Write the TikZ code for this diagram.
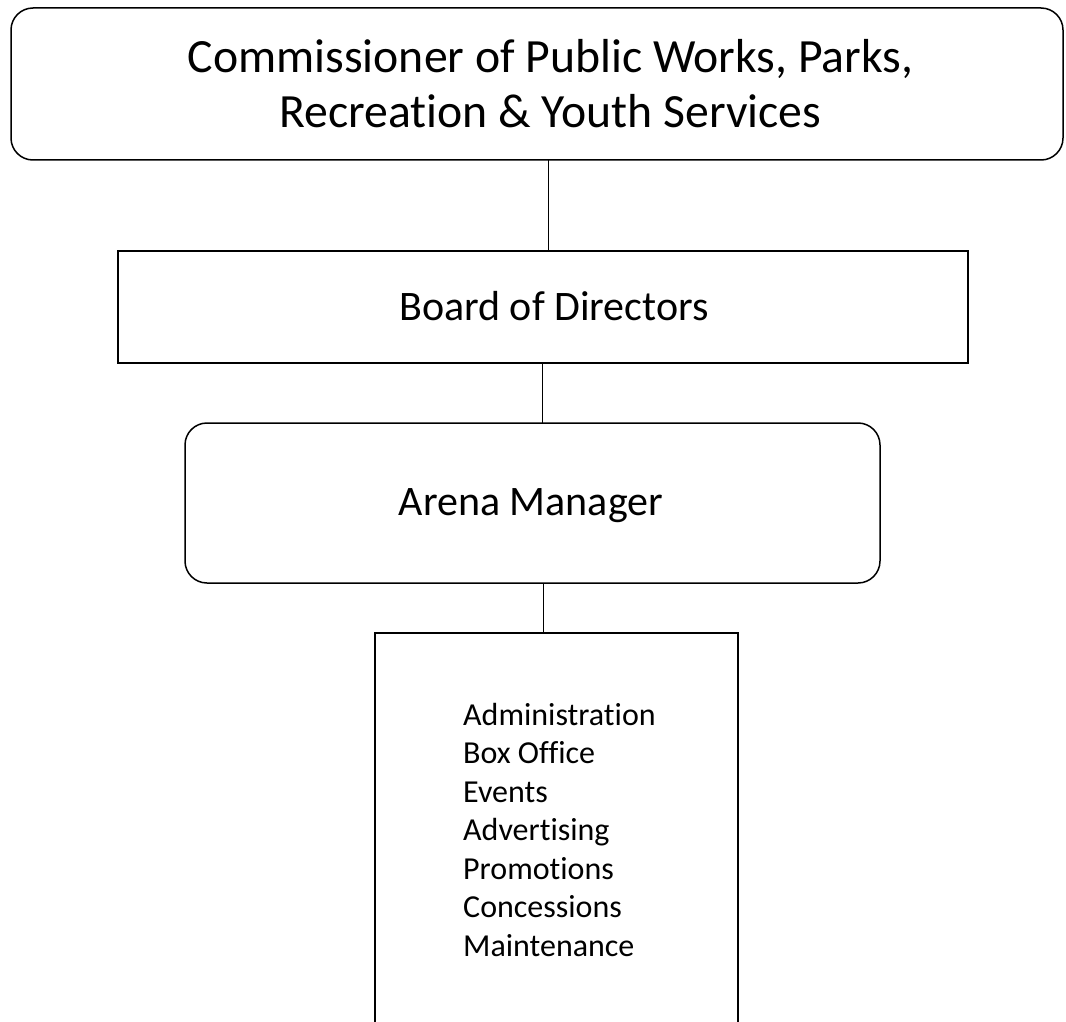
\documentclass[tikz,border=0pt]{standalone}
\usepackage{fontspec}
\setmainfont{Carlito}[RawFeature={-liga;-clig;-calt;-dlig}]
\begin{document}
\begin{tikzpicture}[x=1pt,y=-1pt,
  box/.style={draw=black,line width=1.5pt,inner sep=0pt,outer sep=0pt},
  roundbox/.style={box,rounded corners=22pt},
  huge/.style={font=\fontsize{47.7}{55}\selectfont,inner sep=0pt},
  big/.style={font=\fontsize{42}{51}\selectfont,inner sep=0pt},
  small/.style={font=\fontsize{32}{38.5}\selectfont,inner sep=0pt,align=left},
  conn/.style={draw=black,line width=0.9pt}]
\clip (0,0) rectangle (1066,1022);
\fill[white] (0,0) rectangle (1066,1022);
% boxes
\node[roundbox,minimum width=1052pt,minimum height=152pt] (top) at (537,84) {};
\node[box,minimum width=850pt,minimum height=112pt] (board) at (543,307) {};
\node[roundbox,minimum width=695pt,minimum height=160pt] (arena) at (532.5,503) {};
\node[box,minimum width=363pt,minimum height=420pt,anchor=north] (units) at (556.5,633) {};
% texts
\node[huge,anchor=base] (t1) at (550.5,73) {Commissioner of Public Works, Parks,};
\node[huge,anchor=base] (t2) at (550.5,128) {Recreation \& Youth Services};
\node[big,anchor=base] (tb) at (554,320) {Board of Directors};
\node[big,anchor=base] (ta) at (531,515) {Arena Manager};
\node[small,anchor=north west] (tl) at (463,703) {Administration\\Box Office\\Events\\Advertising\\Promotions\\Concessions\\Maintenance};
% connectors
\coordinate (x1) at (548,0);
\coordinate (x2) at (542,0);
\coordinate (x3) at (543,0);
\draw[conn] (top.south -| x1) -- (board.north -| x1);
\draw[conn] (board.south -| x2) -- (arena.north -| x2);
\draw[conn] (arena.south -| x3) -- (units.north -| x3);
\end{tikzpicture}
\end{document}
